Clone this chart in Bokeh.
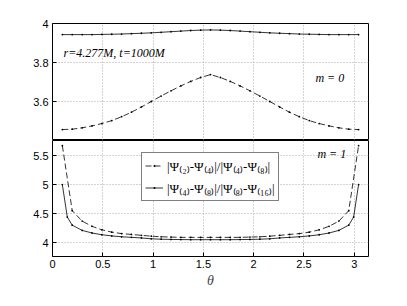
import math
from bokeh.plotting import figure
from bokeh.layouts import column
from bokeh.models import (Range1d, FixedTicker, Legend, LegendItem,
                          Label, CustomJSTickFormatter)
from bokeh.embed import file_html
from bokeh.resources import INLINE

# ---------------- data ----------------
theta = [0.098, 0.196, 0.295, 0.393, 0.491, 0.589, 0.687, 0.785, 0.884, 0.982,
         1.080, 1.178, 1.276, 1.374, 1.473, 1.571, 1.669, 1.767, 1.865, 1.963,
         2.062, 2.160, 2.258, 2.356, 2.454, 2.553, 2.651, 2.749, 2.847, 2.945,
         3.043]

# m = 0 (top panel)
m0_dashed = [3.456, 3.458, 3.465, 3.475, 3.487, 3.502, 3.522, 3.545, 3.572, 3.600,
             3.628, 3.655, 3.680, 3.703, 3.723, 3.738, 3.723, 3.703, 3.680, 3.655,
             3.628, 3.600, 3.572, 3.545, 3.522, 3.502, 3.487, 3.475, 3.465, 3.458,
             3.456]
m0_solid = [3.943, 3.943, 3.943, 3.943, 3.944, 3.945, 3.946, 3.948, 3.950, 3.952,
            3.955, 3.958, 3.961, 3.964, 3.966, 3.967, 3.966, 3.964, 3.961, 3.958,
            3.955, 3.952, 3.950, 3.948, 3.946, 3.945, 3.944, 3.943, 3.943, 3.943,
            3.943]

# m = 1 (bottom panel)
m1_dashed = [5.67, 4.55, 4.37, 4.28, 4.22, 4.18, 4.155, 4.14, 4.125, 4.11,
             4.10, 4.095, 4.09, 4.09, 4.09, 4.09, 4.09, 4.09, 4.09, 4.095,
             4.10, 4.11, 4.125, 4.14, 4.155, 4.18, 4.22, 4.28, 4.37, 4.55,
             5.67]
theta_fine = [0.098, 0.147, 0.196, 0.295, 0.393, 0.491, 0.589, 0.687, 0.785, 0.884,
              0.982, 1.080, 1.178, 1.276, 1.374, 1.473, 1.571, 1.669, 1.767, 1.865,
              1.963, 2.062, 2.160, 2.258, 2.356, 2.454, 2.553, 2.651, 2.749, 2.847,
              2.945, 2.994, 3.043]
m1_solid = [5.00, 4.44, 4.30, 4.21, 4.165, 4.135, 4.115, 4.10, 4.09, 4.08,
            4.065, 4.058, 4.054, 4.052, 4.05, 4.05, 4.05, 4.05, 4.05, 4.052,
            4.054, 4.058, 4.065, 4.08, 4.09, 4.10, 4.115, 4.135, 4.165, 4.21,
            4.30, 4.44, 5.00]

x_ticks = [0, 0.5, 1, 1.5, 2, 2.5, 3]
top_yticks = [3.6, 3.8, 4.0]
bot_yticks = [4.0, 4.5, 5.0, 5.5]

legend_labels = ["|\u03a8\u208d\u2082\u208e-\u03a8\u208d\u2084\u208e|/|\u03a8\u208d\u2084\u208e-\u03a8\u208d\u2088\u208e|",
                 "|\u03a8\u208d\u2084\u208e-\u03a8\u208d\u2088\u208e|/|\u03a8\u208d\u2088\u208e-\u03a8\u208d\u2081\u2086\u208e|"]

# ---------------- styling helpers ----------------
TICK_FONT = "Liberation Sans"
SERIF = "Liberation Serif"
GRID_COLOR = "#a8a8a8"
fmt = CustomJSTickFormatter(code="return String(Math.round(tick*100)/100);")


def style(p, yticks, show_x_labels):
    p.outline_line_color = "black"
    p.outline_line_width = 1
    p.background_fill_color = "white"
    p.border_fill_color = "white"
    ax = p.yaxis[0]
    ax.ticker = FixedTicker(ticks=yticks)
    ax.formatter = fmt
    ax.axis_line_color = None
    ax.major_tick_in = 4
    ax.major_tick_out = 0
    ax.minor_tick_line_color = None
    ax.major_tick_line_color = "black"
    ax.major_label_text_font = TICK_FONT
    ax.major_label_text_font_size = "11px"
    ax.major_label_text_color = "black"
    ax.major_label_standoff = 4
    ax = p.xaxis[0]
    ax.ticker = FixedTicker(ticks=x_ticks)
    ax.formatter = fmt
    ax.axis_line_color = None
    ax.major_tick_in = 4
    ax.major_tick_out = 0
    ax.minor_tick_line_color = None
    ax.major_tick_line_color = "black"
    ax.major_label_text_font = TICK_FONT
    ax.major_label_text_font_size = "11px"
    ax.major_label_text_color = "black"
    ax.major_label_standoff = 3
    ax.visible = show_x_labels
    p.xgrid.ticker = FixedTicker(ticks=x_ticks)
    p.ygrid.ticker = FixedTicker(ticks=yticks)
    for g in (p.xgrid, p.ygrid):
        g.grid_line_color = GRID_COLOR
        g.grid_line_dash = "1 2"
        g.grid_line_width = 1


# ---------------- top panel (m = 0) ----------------
p1 = figure(width=388, height=140, x_range=Range1d(0, math.pi),
            y_range=Range1d(3.4, 4.0), output_backend="svg", toolbar_location=None,
            min_border_left=52, min_border_right=20, min_border_top=23,
            min_border_bottom=0)
style(p1, top_yticks, False)

p1.line(theta, m0_dashed, line_color="black", line_width=0.8, line_dash="6 3")
p1.scatter(theta, m0_dashed, size=1.8, color="black", line_width=0)
p1.line(theta, m0_solid, line_color="black", line_width=0.8)
p1.scatter(theta, m0_solid, size=1.8, color="black", line_width=0)

p1.add_layout(Label(x=0.11, y=3.851, text="r=4.277M, t=1000M", text_font=SERIF,
                    text_font_style="italic", text_font_size="12px",
                    text_baseline="middle", text_color="black"))
p1.add_layout(Label(x=2.614, y=3.723, text="m = 0", text_font=SERIF,
                    text_font_style="italic", text_font_size="12px",
                    text_baseline="middle", text_color="black"))

# ---------------- bottom panel (m = 1) ----------------
p2 = figure(width=388, height=152, x_range=Range1d(0, math.pi),
            y_range=Range1d(3.76, 5.76), output_backend="svg", toolbar_location=None,
            min_border_left=52, min_border_right=20, min_border_top=0,
            min_border_bottom=36)
style(p2, bot_yticks, True)
xa = p2.xaxis[0]
xa.axis_label = "\u03b8"
xa.axis_label_text_font = SERIF
xa.axis_label_text_font_style = "italic"
xa.axis_label_text_font_size = "14px"
xa.axis_label_standoff = 2

l1 = p2.line(theta, m1_dashed, line_color="black", line_width=0.8, line_dash="6 3")
s1 = p2.scatter(theta, m1_dashed, size=1.8, color="black", line_width=0)
l2 = p2.line(theta_fine, m1_solid, line_color="black", line_width=0.8)
s2 = p2.scatter(theta_fine, m1_solid, size=1.8, color="black", line_width=0)

p2.add_layout(Label(x=2.634, y=5.535, text="m = 1", text_font=SERIF,
                    text_font_style="italic", text_font_size="12px",
                    text_baseline="middle", text_color="black"))

legend = Legend(items=[LegendItem(label=legend_labels[0], renderers=[l1, s1]),
                       LegendItem(label=legend_labels[1], renderers=[l2, s2])],
                location=(89, 55))
legend.label_text_font = SERIF
legend.label_text_font_size = "13px"
legend.label_text_color = "black"
legend.border_line_color = "black"
legend.border_line_width = 1
legend.background_fill_color = "white"
legend.background_fill_alpha = 1
legend.padding = 3
legend.spacing = 3
legend.margin = 0
legend.glyph_width = 18
legend.glyph_height = 5
legend.label_height = 19
legend.label_standoff = 4
p2.add_layout(legend)

layout = column(p1, p2, spacing=0)
open("out.html", "w").write(file_html(layout, INLINE))
